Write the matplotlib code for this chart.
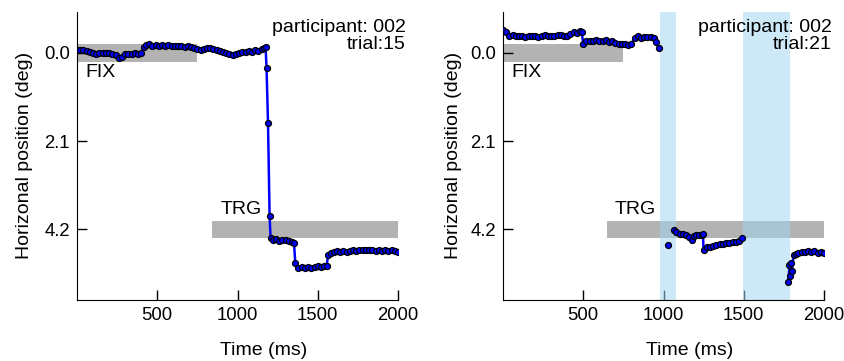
import numpy as np
import matplotlib
matplotlib.use("Agg")
import matplotlib.pyplot as plt

plt.rcParams['font.family'] = ['Liberation Sans', 'DejaVu Sans']

# ---- data ----
t15 = [0, 20, 40, 60, 80, 100, 120, 140, 160, 180, 200, 220, 240, 260, 280, 300, 320, 340, 360, 380,
       400, 415, 430, 450, 470, 490, 510, 530, 550, 570, 590, 610, 630, 650, 670, 690, 710, 730, 750,
       770, 790, 810, 830, 850, 870, 890, 910, 930, 950, 970, 990, 1010, 1030, 1050, 1070, 1090, 1110,
       1130, 1150, 1165, 1175, 1181, 1190, 1200, 1206, 1220, 1240, 1260, 1280, 1300, 1320, 1340, 1352,
       1360, 1380, 1400, 1420, 1440, 1460, 1480, 1500, 1520, 1540, 1555, 1565, 1580, 1600, 1620, 1640,
       1660, 1680, 1700, 1720, 1740, 1760, 1780, 1800, 1820, 1840, 1860, 1880, 1900, 1920, 1940, 1960,
       1980, 2000]
x15 = [-0.07, -0.06, -0.07, -0.05, -0.03, 0.01, 0.03, 0.01, 0.00, 0.01, 0.00, 0.02, 0.06, 0.12, 0.10,
       0.04, 0.02, 0.03, 0.01, 0.02, 0.00, -0.14, -0.18, -0.20, -0.17, -0.19, -0.17, -0.19, -0.16,
       -0.18, -0.16, -0.17, -0.15, -0.16, -0.14, -0.15, -0.13, -0.12, -0.10, -0.07, -0.09, -0.11,
       -0.12, -0.08, -0.06, -0.05, -0.03, 0.00, 0.02, 0.06, 0.03, 0.01, -0.02, -0.01, -0.04, -0.03,
       -0.06, -0.05, -0.09, -0.11, -0.13, 0.36, 1.66, 3.88, 4.40, 4.46, 4.44, 4.47, 4.45, 4.46, 4.48,
       4.50, 4.52, 5.00, 5.11, 5.10, 5.11, 5.09, 5.12, 5.10, 5.08, 5.09, 5.07, 5.06, 4.82, 4.76, 4.73,
       4.72, 4.74, 4.71, 4.73, 4.72, 4.70, 4.71, 4.69, 4.70, 4.68, 4.70, 4.68, 4.71, 4.69, 4.72, 4.70,
       4.71, 4.70, 4.72, 4.75]

t21 = [0, 20, 40, 60, 80, 100, 120, 140, 160, 180, 200, 220, 240, 260, 280, 300, 320, 340, 360, 380,
       400, 420, 440, 460, 480, 490, 500, 520, 540, 560, 580, 600, 620, 640, 660, 680, 700, 720, 740,
       760, 780, 800, 820, 840, 860, 880, 900, 920, 940, 955, 970, 1000, 1027, 1045, 1066, 1080, 1100,
       1120, 1140, 1160, 1175, 1190, 1200, 1220, 1240, 1245, 1250, 1270, 1290, 1310, 1330, 1350, 1370,
       1390, 1410, 1430, 1450, 1470, 1490, 1600, 1778, 1785, 1790, 1795, 1800, 1810, 1825, 1840, 1860,
       1880, 1900, 1920, 1940, 1960, 1980, 2000]
x21 = [-0.53, -0.50, -0.41, -0.42, -0.40, -0.41, -0.39, -0.38, -0.39, -0.41, -0.39, -0.38, -0.40,
       -0.42, -0.41, -0.40, -0.41, -0.43, -0.42, -0.40, -0.41, -0.44, -0.49, -0.48, -0.51, -0.49,
       -0.22, -0.27, -0.28, -0.29, -0.30, -0.29, -0.27, -0.30, -0.26, -0.27, -0.24, -0.21, -0.22,
       -0.20, -0.19, -0.21, -0.36, -0.39, -0.36, -0.38, -0.37, -0.37, -0.36, -0.25, -0.12, np.nan,
       4.57, np.nan, 4.22, 4.27, 4.30, 4.31, 4.33, 4.38, 4.46, 4.36, 4.33, 4.34, 4.33, 4.30, 4.68,
       4.61, 4.61, 4.59, 4.57, 4.55, 4.54, 4.53, 4.52, 4.51, 4.50, 4.48, 4.41, np.nan, 5.44, 5.05,
       5.30, 5.00, 5.20, 4.81, 4.78, 4.76, 4.75, 4.73, 4.71, 4.74, 4.72, 4.76, 4.74, 4.76]

panels = [
    dict(t=t15, x=x15, label="participant: 002\ntrial:15",
         fix=(0, 750), trg=(843, 2000), blinks=[], ylab_x=-0.137),
    dict(t=t21, x=x21, label="participant: 002\ntrial:21",
         fix=(0, 750), trg=(646, 2000), blinks=[(977, 1077), (1496, 1788)], ylab_x=-0.128),
]
fix_pos = 0.0
trg_pos = 4.2
box_half = 0.21
yticks = [0.0, 2.1, 4.2]
ytick_labels = ["0.0", "2.1", "4.2"]
xticks = [500, 1000, 1500, 2000]

FS = 14
fig = plt.figure(figsize=(8.44, 3.61), dpi=100)
lefts = [77 / 844, 503 / 844]
for p, left in zip(panels, lefts):
    ax = fig.add_axes([left, 1 - 300 / 361, 321 / 844, 288 / 361])
    ax.fill_between(p['fix'], fix_pos - box_half, fix_pos + box_half, color='#b3b3b3', lw=0, zorder=1)
    ax.fill_between(p['trg'], trg_pos - box_half, trg_pos + box_half, color='#b3b3b3', lw=0, zorder=1)
    for b in p['blinks']:
        ax.axvspan(b[0], b[1], color='#a1d5f0', alpha=0.53, lw=0, zorder=2)
    ax.text(p['fix'][0] + 50, 0.47, "FIX", fontsize=FS, va='center', ha='left')
    ax.text(p['trg'][0] + 50, 3.72, "TRG", fontsize=FS, va='center', ha='left')
    ax.plot(p['t'], p['x'], color='blue', lw=1.8, marker='o', ms=4.3,
            mfc='blue', mec='black', mew=0.9, zorder=3)
    ax.text(1.025, 0.975, p['label'], transform=ax.transAxes, ha='right', va='top',
            fontsize=FS, linespacing=1.0)
    ax.set_xlim(0, 2000)
    ax.set_ylim(5.88, -0.97)
    ax.set_xticks(xticks)
    ax.set_yticks(yticks)
    ax.set_yticklabels(ytick_labels)
    ax.tick_params(direction='in', length=7, width=1, labelsize=13.3, pad=5)
    for s in ['top', 'right']:
        ax.spines[s].set_visible(False)
    ax.set_xlabel("Time (ms)", fontsize=FS)
    ax.xaxis.set_label_coords(0.58, -0.145)
    ax.set_ylabel("Horizonal position (deg)", fontsize=FS)
    ax.yaxis.set_label_coords(p['ylab_x'], 0.503)

fig.savefig("out.png", dpi=100)
